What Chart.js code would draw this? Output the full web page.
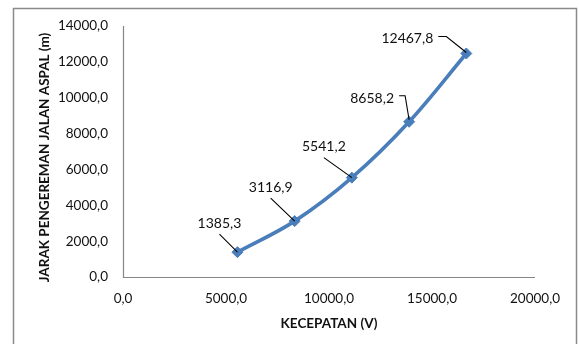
<!DOCTYPE html>
<html>
<head>
<meta charset="utf-8">
<script src="https://cdn.jsdelivr.net/npm/chart.js@4.4.1/dist/chart.umd.min.js"></script>
<style>
  html, body { margin: 0; padding: 0; background: #ffffff; }
  #wrap { position: relative; width: 579px; height: 344px; }
</style>
</head>
<body>
<div id="wrap"><canvas id="chart" width="579" height="344"></canvas></div>
<script>
// Kecepatan (V) vs jarak pengereman pada jalan aspal
const speeds = [5555.6, 8333.3, 11111.1, 13888.9, 16666.7];
const distances = [1385.3, 3116.9, 5541.2, 8658.2, 12467.8];
const xTickValues = [0, 5000, 10000, 15000, 20000];
const yTickValues = [0, 2000, 4000, 6000, 8000, 10000, 12000, 14000];

const xTitle = 'KECEPATAN (V)';
const yTitle = 'JARAK PENGEREMAN JALAN ASPAL (m)';

// Label placement relative to each point (pixels), with leader-line vertices
const labelPlacement = [
  { dx: -18, dy: -29, leader: [[-18, -18], [0, 0]] },
  { dx: -24, dy: -34, leader: [[-24, -23], [0, 0]] },
  { dx: -28, dy: -31, leader: [[-28, -20], [0, 0]] },
  { dx: -37, dy: -23, leader: [[-10, -26], [-4, -26], [0, -2]] },
  { dx: -59, dy: -15, leader: [[-28, -17], [-20, -17], [0, -1]] }
];

const fmt = v => v.toFixed(1).replace('.', ',');
const FONT = 'Lato, "Open Sans", "DejaVu Sans", sans-serif';
const AXIS_COLOR = '#868686';
const TEXT_COLOR = '#111111';

// Outer frame of the chart object
const framePlugin = {
  id: 'frame',
  beforeDraw(chart) {
    const ctx = chart.ctx;
    ctx.save();
    ctx.fillStyle = '#ffffff';
    ctx.fillRect(0, 0, chart.width, chart.height);
    ctx.strokeStyle = '#8a8a8a';
    ctx.lineWidth = 1.5;
    ctx.strokeRect(13.5, 8.5, 563, 350);
    ctx.restore();
  }
};

// Axis lines drawn over the value range of each scale
const axisLinePlugin = {
  id: 'axisLines',
  beforeDatasetsDraw(chart) {
    const { ctx, scales: { x, y } } = chart;
    const x0 = x.getPixelForValue(xTickValues[0]);
    const x1 = x.getPixelForValue(xTickValues[xTickValues.length - 1]);
    const y0 = y.getPixelForValue(yTickValues[0]);
    const y1 = y.getPixelForValue(yTickValues[yTickValues.length - 1]);
    ctx.save();
    ctx.strokeStyle = AXIS_COLOR;
    ctx.lineWidth = 1.2;
    ctx.beginPath();
    ctx.moveTo(Math.round(x0) + 0.5, y1);
    ctx.lineTo(Math.round(x0) + 0.5, Math.round(y0) + 0.5);
    ctx.lineTo(x1, Math.round(y0) + 0.5);
    ctx.stroke();
    ctx.restore();
  }
};

// Value labels with leader lines
const valueLabelPlugin = {
  id: 'valueLabels',
  afterDatasetsDraw(chart) {
    const { ctx } = chart;
    const meta = chart.getDatasetMeta(0);
    ctx.save();
    meta.data.forEach((pt, i) => {
      const p = labelPlacement[i];
      const px = pt.x, py = pt.y;
      ctx.strokeStyle = '#000000';
      ctx.lineWidth = 1.1;
      ctx.beginPath();
      p.leader.forEach(([lx, ly], k) => {
        if (k === 0) ctx.moveTo(px + lx, py + ly);
        else ctx.lineTo(px + lx, py + ly);
      });
      ctx.stroke();
      ctx.fillStyle = TEXT_COLOR;
      ctx.font = '14px ' + FONT;
      ctx.textAlign = 'center';
      ctx.textBaseline = 'middle';
      ctx.fillText(fmt(distances[i]), px + p.dx, py + p.dy);
    });
    ctx.restore();
  }
};

// Y-axis title
const yTitlePlugin = {
  id: 'yTitle',
  afterDraw(chart) {
    const { ctx, chartArea } = chart;
    ctx.save();
    ctx.translate(45, (chartArea.top + chartArea.bottom) / 2 + 6);
    ctx.rotate(-Math.PI / 2);
    ctx.font = 'bold 13.5px ' + FONT;
    ctx.fillStyle = TEXT_COLOR;
    ctx.textAlign = 'center';
    ctx.textBaseline = 'middle';
    ctx.fillText(yTitle, 0, 0);
    ctx.restore();
  }
};

new Chart(document.getElementById('chart'), {
  type: 'scatter',
  data: {
    datasets: [{
      data: speeds.map((v, i) => ({ x: v, y: distances[i] })),
      showLine: true,
      tension: 0.35,
      borderColor: '#4A7EBB',
      borderWidth: 3.6,
      pointStyle: 'rectRot',
      pointRadius: 5.5,
      pointBackgroundColor: '#4A7EBB',
      pointBorderColor: '#4A7EBB',
      pointBorderWidth: 1
    }]
  },
  options: {
    responsive: false,
    animation: false,
    devicePixelRatio: 1,
    layout: { padding: { left: 0, right: 44, top: 26, bottom: 0 } },
    plugins: {
      legend: { display: false },
      tooltip: { enabled: false }
    },
    scales: {
      x: {
        type: 'linear',
        min: xTickValues[0],
        max: xTickValues[xTickValues.length - 1],
        afterBuildTicks: s => { s.ticks = xTickValues.map(v => ({ value: v })); },
        afterFit: s => { s.height = 67; },
        grid: { display: false, drawTicks: false },
        border: { display: false },
        ticks: {
          padding: 14,
          color: TEXT_COLOR,
          font: { family: FONT, size: 13.5 },
          callback: v => fmt(v),
          maxRotation: 0
        },
        title: {
          display: true,
          text: xTitle,
          color: TEXT_COLOR,
          font: { family: FONT, size: 13.5, weight: 'bold' },
          padding: { top: 0, bottom: 12 }
        }
      },
      y: {
        type: 'linear',
        min: yTickValues[0],
        max: yTickValues[yTickValues.length - 1],
        afterBuildTicks: s => { s.ticks = yTickValues.map(v => ({ value: v })); },
        afterFit: s => { s.width = 123; },
        grid: { display: false, drawTicks: false },
        border: { display: false },
        ticks: {
          padding: 15,
          color: TEXT_COLOR,
          font: { family: FONT, size: 13.5 },
          callback: v => fmt(v)
        }
      }
    }
  },
  plugins: [framePlugin, axisLinePlugin, valueLabelPlugin, yTitlePlugin]
});
</script>
</body>
</html>
